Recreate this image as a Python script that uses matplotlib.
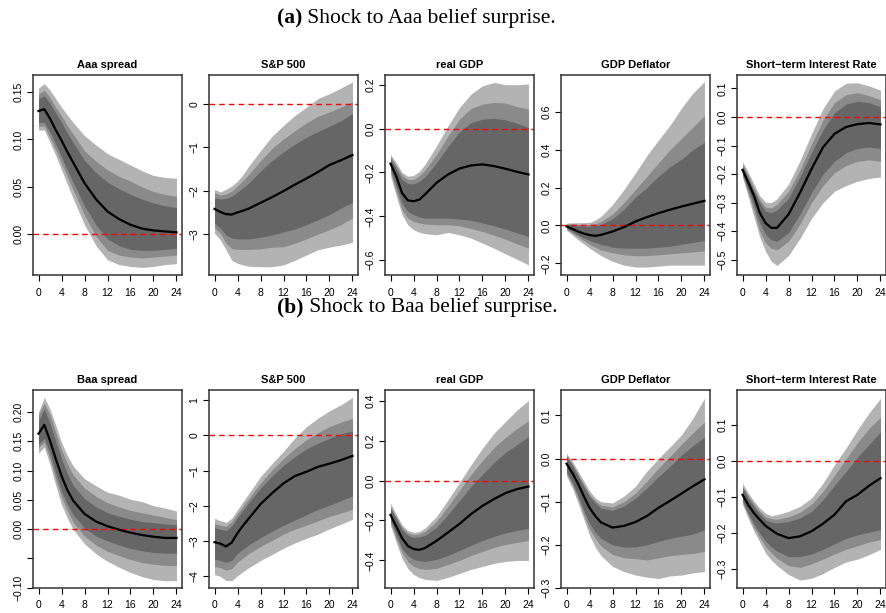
import numpy as np
import matplotlib.pyplot as plt
from matplotlib.ticker import FuncFormatter

plt.rcParams['font.family'] = ['Liberation Sans', 'DejaVu Sans']

# horizons (months)
H = [0, 1, 2, 3, 4, 5, 6, 8, 10, 12, 14, 16, 18, 20, 22, 24]

# rows: outer lo, middle lo, inner lo, median, inner hi, middle hi, outer hi
aaa_spread = [
    [0.110, 0.110, 0.097, 0.083, 0.068, 0.053, 0.038, 0.010, -0.012, -0.027, -0.032, -0.034, -0.035, -0.034, -0.032, -0.031],
    [0.114, 0.114, 0.102, 0.089, 0.075, 0.061, 0.047, 0.020, -0.002, -0.017, -0.022, -0.024, -0.025, -0.024, -0.023, -0.022],
    [0.118, 0.118, 0.108, 0.095, 0.082, 0.068, 0.055, 0.030, 0.010, -0.005, -0.012, -0.016, -0.017, -0.017, -0.016, -0.015],
    [0.130, 0.132, 0.122, 0.110, 0.099, 0.087, 0.076, 0.054, 0.037, 0.024, 0.016, 0.010, 0.006, 0.004, 0.003, 0.002],
    [0.143, 0.146, 0.138, 0.128, 0.118, 0.107, 0.097, 0.078, 0.065, 0.055, 0.048, 0.042, 0.037, 0.033, 0.030, 0.028],
    [0.148, 0.152, 0.144, 0.134, 0.125, 0.115, 0.106, 0.088, 0.077, 0.068, 0.061, 0.056, 0.050, 0.045, 0.042, 0.040],
    [0.154, 0.159, 0.152, 0.143, 0.134, 0.126, 0.118, 0.104, 0.094, 0.085, 0.079, 0.073, 0.067, 0.062, 0.060, 0.059],
]
a_sp500 = [
    [-2.98, -3.13, -3.36, -3.60, -3.67, -3.71, -3.74, -3.75, -3.75, -3.71, -3.60, -3.48, -3.36, -3.30, -3.25, -3.19],
    [-2.86, -2.98, -3.21, -3.33, -3.35, -3.35, -3.35, -3.34, -3.30, -3.29, -3.21, -3.11, -3.00, -2.90, -2.78, -2.63],
    [-2.75, -2.86, -3.02, -3.09, -3.11, -3.11, -3.11, -3.07, -3.02, -2.95, -2.88, -2.78, -2.67, -2.55, -2.40, -2.27],
    [-2.42, -2.49, -2.54, -2.55, -2.50, -2.46, -2.41, -2.28, -2.15, -2.01, -1.86, -1.72, -1.57, -1.41, -1.30, -1.18],
    [-2.17, -2.19, -2.18, -2.13, -2.03, -1.93, -1.82, -1.55, -1.31, -1.11, -0.93, -0.77, -0.64, -0.52, -0.39, -0.23],
    [-2.05, -2.10, -2.08, -2.01, -1.89, -1.76, -1.62, -1.31, -1.03, -0.81, -0.62, -0.44, -0.29, -0.19, -0.08, 0.05],
    [-1.97, -2.03, -1.97, -1.89, -1.78, -1.62, -1.43, -1.08, -0.75, -0.50, -0.27, -0.08, 0.12, 0.23, 0.36, 0.50],
]
a_gdp = [
    [-0.214, -0.308, -0.392, -0.438, -0.461, -0.472, -0.479, -0.484, -0.473, -0.484, -0.499, -0.522, -0.545, -0.571, -0.595, -0.621],
    [-0.198, -0.285, -0.369, -0.408, -0.423, -0.430, -0.435, -0.438, -0.438, -0.443, -0.455, -0.469, -0.486, -0.504, -0.525, -0.545],
    [-0.186, -0.263, -0.339, -0.377, -0.392, -0.402, -0.408, -0.408, -0.408, -0.412, -0.418, -0.430, -0.443, -0.458, -0.475, -0.492],
    [-0.160, -0.217, -0.293, -0.327, -0.331, -0.324, -0.300, -0.247, -0.209, -0.182, -0.168, -0.163, -0.171, -0.183, -0.197, -0.209],
    [-0.137, -0.183, -0.232, -0.250, -0.252, -0.240, -0.220, -0.156, -0.082, -0.015, 0.027, 0.043, 0.047, 0.040, 0.024, 0.005],
    [-0.128, -0.170, -0.213, -0.232, -0.232, -0.215, -0.189, -0.118, -0.034, 0.043, 0.092, 0.111, 0.119, 0.116, 0.100, 0.089],
    [-0.118, -0.156, -0.200, -0.217, -0.214, -0.195, -0.163, -0.079, 0.012, 0.096, 0.157, 0.195, 0.210, 0.200, 0.200, 0.203],
]
a_defl = [
    [-0.025, -0.050, -0.075, -0.098, -0.120, -0.140, -0.160, -0.190, -0.210, -0.220, -0.220, -0.215, -0.210, -0.210, -0.210, -0.210],
    [-0.020, -0.040, -0.060, -0.080, -0.100, -0.115, -0.130, -0.145, -0.155, -0.160, -0.160, -0.155, -0.150, -0.145, -0.140, -0.135],
    [-0.015, -0.032, -0.050, -0.066, -0.080, -0.090, -0.100, -0.115, -0.120, -0.120, -0.120, -0.115, -0.110, -0.100, -0.090, -0.080],
    [-0.005, -0.018, -0.032, -0.043, -0.051, -0.055, -0.050, -0.032, -0.009, 0.021, 0.044, 0.065, 0.083, 0.100, 0.115, 0.130],
    [0.005, 0.002, -0.002, -0.004, -0.005, 0.000, 0.005, 0.035, 0.085, 0.150, 0.200, 0.260, 0.310, 0.350, 0.400, 0.440],
    [0.008, 0.008, 0.006, 0.005, 0.005, 0.010, 0.020, 0.060, 0.120, 0.190, 0.260, 0.330, 0.400, 0.460, 0.520, 0.580],
    [0.012, 0.014, 0.014, 0.015, 0.016, 0.028, 0.048, 0.110, 0.190, 0.278, 0.370, 0.451, 0.529, 0.620, 0.700, 0.760],
]
a_rate = [
    [-0.210, -0.280, -0.350, -0.420, -0.470, -0.505, -0.520, -0.485, -0.425, -0.355, -0.300, -0.260, -0.240, -0.225, -0.215, -0.210],
    [-0.205, -0.265, -0.330, -0.400, -0.440, -0.460, -0.465, -0.435, -0.375, -0.300, -0.240, -0.195, -0.170, -0.155, -0.150, -0.155],
    [-0.200, -0.255, -0.310, -0.370, -0.410, -0.430, -0.435, -0.405, -0.340, -0.265, -0.200, -0.155, -0.125, -0.110, -0.105, -0.110],
    [-0.185, -0.229, -0.276, -0.335, -0.371, -0.388, -0.388, -0.341, -0.265, -0.182, -0.106, -0.059, -0.035, -0.025, -0.021, -0.026],
    [-0.172, -0.215, -0.260, -0.300, -0.330, -0.335, -0.325, -0.285, -0.210, -0.125, -0.045, 0.015, 0.045, 0.055, 0.050, 0.035],
    [-0.165, -0.205, -0.250, -0.290, -0.315, -0.318, -0.305, -0.260, -0.185, -0.095, -0.010, 0.050, 0.078, 0.085, 0.075, 0.060],
    [-0.156, -0.194, -0.235, -0.276, -0.298, -0.300, -0.286, -0.235, -0.153, -0.059, 0.029, 0.091, 0.118, 0.120, 0.109, 0.094],
]
baa_spread = [
    [0.130, 0.140, 0.110, 0.075, 0.042, 0.019, 0.000, -0.025, -0.042, -0.055, -0.065, -0.074, -0.081, -0.086, -0.088, -0.088],
    [0.140, 0.148, 0.120, 0.085, 0.055, 0.032, 0.012, -0.012, -0.027, -0.038, -0.045, -0.052, -0.057, -0.060, -0.062, -0.062],
    [0.145, 0.155, 0.130, 0.095, 0.065, 0.043, 0.025, 0.002, -0.012, -0.020, -0.027, -0.033, -0.037, -0.040, -0.041, -0.041],
    [0.163, 0.178, 0.151, 0.120, 0.091, 0.067, 0.049, 0.026, 0.013, 0.005, -0.001, -0.006, -0.010, -0.013, -0.015, -0.015],
    [0.185, 0.205, 0.180, 0.150, 0.120, 0.095, 0.075, 0.052, 0.038, 0.028, 0.022, 0.017, 0.013, 0.011, 0.009, 0.007],
    [0.195, 0.215, 0.195, 0.165, 0.135, 0.112, 0.093, 0.070, 0.056, 0.045, 0.038, 0.032, 0.028, 0.024, 0.020, 0.016],
    [0.200, 0.225, 0.205, 0.177, 0.148, 0.126, 0.108, 0.086, 0.074, 0.063, 0.058, 0.051, 0.047, 0.040, 0.036, 0.031],
]
b_sp500 = [
    [-3.95, -4.00, -4.12, -4.12, -3.98, -3.86, -3.75, -3.55, -3.38, -3.20, -3.05, -2.92, -2.80, -2.65, -2.52, -2.38],
    [-3.72, -3.75, -3.82, -3.78, -3.60, -3.47, -3.35, -3.15, -2.98, -2.80, -2.66, -2.55, -2.42, -2.30, -2.20, -2.10],
    [-3.50, -3.55, -3.60, -3.55, -3.35, -3.22, -3.10, -2.90, -2.72, -2.55, -2.40, -2.25, -2.10, -1.98, -1.85, -1.72],
    [-3.03, -3.07, -3.15, -3.04, -2.77, -2.55, -2.35, -1.95, -1.64, -1.36, -1.15, -1.03, -0.89, -0.80, -0.70, -0.58],
    [-2.62, -2.66, -2.70, -2.57, -2.33, -2.11, -1.90, -1.50, -1.15, -0.85, -0.60, -0.38, -0.22, -0.08, 0.05, 0.13],
    [-2.50, -2.55, -2.58, -2.45, -2.22, -2.00, -1.78, -1.35, -0.98, -0.66, -0.37, -0.12, 0.08, 0.25, 0.38, 0.48],
    [-2.35, -2.42, -2.47, -2.35, -2.11, -1.87, -1.64, -1.17, -0.80, -0.45, -0.07, 0.25, 0.49, 0.70, 0.87, 1.08],
]
b_gdp = [
    [-0.225, -0.310, -0.390, -0.440, -0.470, -0.485, -0.495, -0.500, -0.485, -0.465, -0.445, -0.430, -0.415, -0.405, -0.400, -0.400],
    [-0.210, -0.290, -0.360, -0.405, -0.430, -0.440, -0.445, -0.440, -0.420, -0.400, -0.375, -0.355, -0.335, -0.320, -0.310, -0.300],
    [-0.200, -0.270, -0.340, -0.375, -0.395, -0.402, -0.405, -0.395, -0.375, -0.350, -0.325, -0.300, -0.280, -0.262, -0.250, -0.240],
    [-0.172, -0.230, -0.288, -0.327, -0.343, -0.347, -0.338, -0.302, -0.260, -0.217, -0.168, -0.127, -0.093, -0.063, -0.043, -0.030],
    [-0.140, -0.190, -0.245, -0.275, -0.285, -0.282, -0.275, -0.235, -0.170, -0.100, -0.030, 0.030, 0.090, 0.140, 0.180, 0.220],
    [-0.130, -0.185, -0.235, -0.262, -0.272, -0.267, -0.255, -0.205, -0.130, -0.050, 0.030, 0.100, 0.165, 0.215, 0.260, 0.300],
    [-0.113, -0.170, -0.222, -0.250, -0.260, -0.255, -0.238, -0.180, -0.097, -0.010, 0.078, 0.162, 0.237, 0.295, 0.353, 0.400],
]
b_defl = [
    [-0.040, -0.068, -0.102, -0.140, -0.178, -0.205, -0.225, -0.250, -0.262, -0.270, -0.275, -0.278, -0.272, -0.270, -0.265, -0.262],
    [-0.035, -0.060, -0.093, -0.130, -0.163, -0.185, -0.203, -0.222, -0.230, -0.232, -0.235, -0.230, -0.225, -0.222, -0.220, -0.215],
    [-0.030, -0.055, -0.085, -0.120, -0.150, -0.170, -0.185, -0.200, -0.205, -0.205, -0.200, -0.192, -0.185, -0.180, -0.175, -0.165],
    [-0.012, -0.033, -0.058, -0.087, -0.114, -0.133, -0.148, -0.160, -0.156, -0.147, -0.133, -0.114, -0.098, -0.081, -0.064, -0.048],
    [0.005, -0.016, -0.040, -0.065, -0.088, -0.103, -0.115, -0.120, -0.110, -0.092, -0.068, -0.042, -0.018, 0.008, 0.030, 0.050],
    [0.008, -0.012, -0.036, -0.060, -0.083, -0.098, -0.108, -0.112, -0.100, -0.080, -0.052, -0.022, 0.005, 0.033, 0.060, 0.085],
    [0.012, -0.006, -0.029, -0.052, -0.075, -0.091, -0.100, -0.103, -0.087, -0.064, -0.029, 0.000, 0.027, 0.055, 0.094, 0.140],
]
b_rate = [
    [-0.120, -0.160, -0.195, -0.225, -0.255, -0.275, -0.290, -0.315, -0.330, -0.325, -0.312, -0.295, -0.280, -0.272, -0.260, -0.245],
    [-0.115, -0.152, -0.185, -0.212, -0.237, -0.255, -0.270, -0.290, -0.295, -0.285, -0.272, -0.258, -0.245, -0.235, -0.225, -0.218],
    [-0.110, -0.145, -0.175, -0.200, -0.222, -0.238, -0.250, -0.265, -0.265, -0.258, -0.245, -0.230, -0.215, -0.205, -0.198, -0.190],
    [-0.094, -0.122, -0.145, -0.163, -0.180, -0.191, -0.202, -0.214, -0.209, -0.195, -0.174, -0.149, -0.112, -0.094, -0.069, -0.048],
    [-0.075, -0.103, -0.127, -0.147, -0.163, -0.170, -0.172, -0.168, -0.158, -0.140, -0.108, -0.068, -0.030, 0.010, 0.045, 0.080],
    [-0.070, -0.097, -0.120, -0.140, -0.155, -0.160, -0.162, -0.155, -0.142, -0.120, -0.085, -0.040, 0.005, 0.050, 0.090, 0.120],
    [-0.062, -0.089, -0.112, -0.131, -0.145, -0.152, -0.149, -0.140, -0.126, -0.103, -0.062, -0.011, 0.035, 0.086, 0.132, 0.173],
]

titles_a = ["Aaa spread", "S&P 500", "real GDP", "GDP Deflator", "Short\u2212term Interest Rate"]
titles_b = ["Baa spread", "S&P 500", "real GDP", "GDP Deflator", "Short\u2212term Interest Rate"]

# (data, ylim, yticks, label format, ticks left without a label)
row_a = [
    (aaa_spread, (-0.043, 0.168), [0.0, 0.05, 0.10, 0.15], "%.2f", []),
    (a_sp500, (-3.94, 0.66), [-3, -2, -1, 0], "%d", []),
    (a_gdp, (-0.667, 0.244), [-0.6, -0.4, -0.2, 0.0, 0.2], "%.1f", []),
    (a_defl, (-0.262, 0.795), [-0.2, 0.0, 0.2, 0.4, 0.6], "%.1f", []),
    (a_rate, (-0.553, 0.147), [-0.5, -0.4, -0.3, -0.2, -0.1, 0.0, 0.1], "%.1f", []),
]
row_b = [
    (baa_spread, (-0.1005, 0.2375), [-0.10, -0.05, 0.0, 0.05, 0.10, 0.15, 0.20], "%.2f", [-0.05]),
    (b_sp500, (-4.33, 1.29), [-4, -3, -2, -1, 0, 1], "%d", []),
    (b_gdp, (-0.538, 0.453), [-0.4, -0.2, 0.0, 0.2, 0.4], "%.1f", []),
    (b_defl, (-0.298, 0.159), [-0.3, -0.2, -0.1, 0.0, 0.1], "%.1f", []),
    (b_rate, (-0.352, 0.196), [-0.3, -0.2, -0.1, 0.0, 0.1], "%.1f", []),
]

band_cols = ["#b3b3b3", "#8a8a8a", "#666666"]

W, Hpx = 886, 613
fig = plt.figure(figsize=(W / 100, Hpx / 100), dpi=100)

lefts = [33, 209, 385, 561, 737]
pw = 149


def make_fmt(f, skip):
    def fmt(v, p):
        if any(abs(v - s) < 1e-9 for s in skip):
            return ""
        return (f % v).replace("-", "\u2212")
    return FuncFormatter(fmt)


def draw_panel(left, top, bottom, data, title, ylim, yticks, fmt, skip):
    ax = fig.add_axes([left / W, 1 - bottom / Hpx, pw / W, (bottom - top) / Hpx])
    lo3, lo2, lo1, med, hi1, hi2, hi3 = [np.array(r) for r in data]
    ax.fill_between(H, lo3, hi3, color=band_cols[0], lw=0)
    ax.fill_between(H, lo2, hi2, color=band_cols[1], lw=0)
    ax.fill_between(H, lo1, hi1, color=band_cols[2], lw=0)
    ax.axhline(0, color="red", lw=1.0, dashes=(4, 3))
    ax.plot(H, med, color="black", lw=1.6)
    ax.set_xlim(-0.96, 24.96)
    ax.set_ylim(*ylim)
    ax.set_xticks([0, 4, 8, 12, 16, 20, 24])
    ax.set_yticks(yticks)
    ax.yaxis.set_major_formatter(make_fmt(fmt, skip))
    ax.tick_params(direction="out", length=4, width=0.8, labelsize=7.5, pad=3)
    ax.tick_params(axis="x", pad=5)
    ax.tick_params(axis="y", labelrotation=90)
    for lab in ax.get_yticklabels():
        lab.set_va("center")
    for s in ax.spines.values():
        s.set_linewidth(1.1)
        s.set_color("#333333")
    ax.set_title(title, fontsize=8, fontweight="bold", pad=5)
    return ax


axes = []
for i in range(5):
    d, yl, yt, f, sk = row_a[i]
    axes.append(draw_panel(lefts[i], 75, 275, d, titles_a[i], yl, yt, f, sk))
for i in range(5):
    d, yl, yt, f, sk = row_b[i]
    axes.append(draw_panel(lefts[i], 390, 588, d, titles_b[i], yl, yt, f, sk))

# panel headings, bold tag + regular caption
for tag, cap, ypx in [("(a)", " Shock to Aaa belief surprise.", 18),
                      ("(b)", " Shock to Baa belief surprise.", 307)]:
    t1 = fig.text(277 / W, 1 - ypx / Hpx, tag, fontsize=15.5, fontweight="bold",
                  family="Liberation Serif", va="center", ha="left")
    axes[0].annotate(cap, xy=(1, 0), xycoords=t1, va="bottom", ha="left",
                     fontsize=15.5, family="Liberation Serif", annotation_clip=False)

fig.savefig("out.png", dpi=100)
